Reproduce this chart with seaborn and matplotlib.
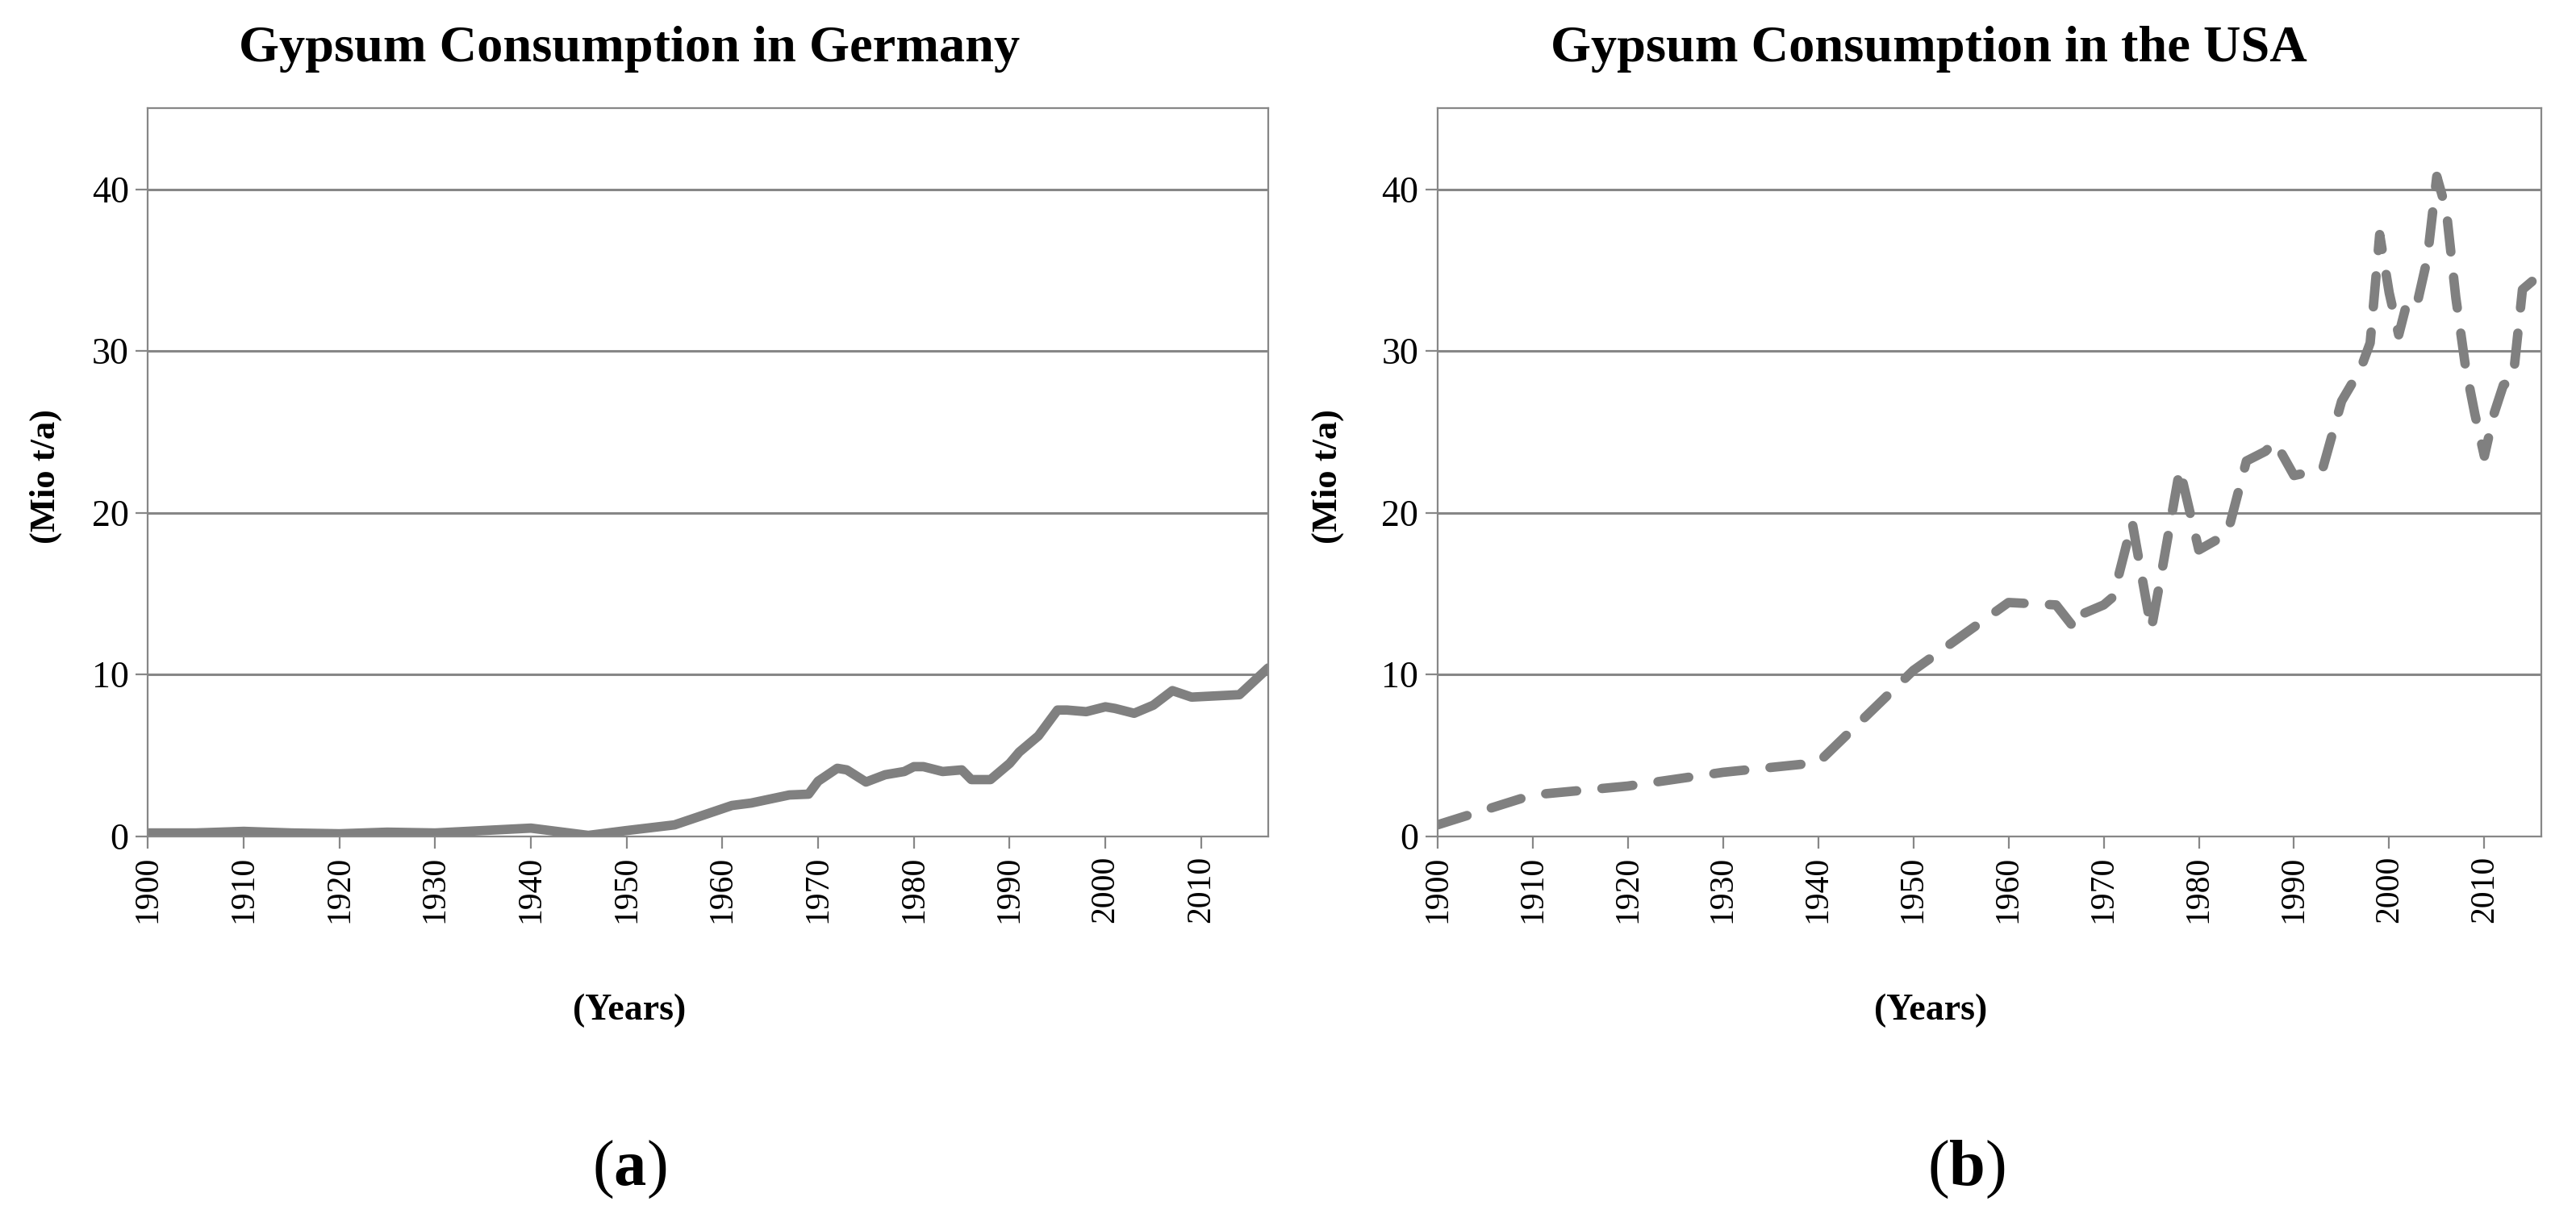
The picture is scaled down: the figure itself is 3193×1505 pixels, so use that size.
import matplotlib
matplotlib.use("Agg")
import matplotlib.pyplot as plt
import seaborn as sns
import pandas as pd

# Germany, Mio t/a
de_years = [1900, 1905, 1910, 1915, 1920, 1925, 1930, 1935, 1940, 1946, 1950, 1955,
            1960, 1961, 1963, 1965, 1967, 1969, 1970, 1972, 1973, 1975, 1977, 1979,
            1980, 1981, 1983, 1985, 1986, 1988, 1990, 1991, 1993, 1994, 1995, 1996,
            1998, 2000, 2001, 2003, 2005, 2007, 2009, 2014, 2017]
de_values = [0.2, 0.2, 0.3, 0.2, 0.15, 0.25, 0.2, 0.35, 0.5, 0.05, 0.35, 0.7,
             1.7, 1.9, 2.05, 2.3, 2.55, 2.6, 3.4, 4.2, 4.1, 3.35, 3.8, 4.0,
             4.3, 4.3, 4.0, 4.1, 3.5, 3.5, 4.5, 5.2, 6.2, 7.0, 7.8, 7.8,
             7.7, 8.0, 7.9, 7.6, 8.1, 9.0, 8.6, 8.75, 10.4]

# USA, Mio t/a
us_years = [1900, 1910, 1920, 1930, 1940, 1950, 1960, 1965, 1967, 1968, 1970, 1971,
            1973, 1975, 1976, 1978, 1980, 1983, 1985, 1987, 1988, 1990, 1993, 1995,
            1997, 1998, 1999, 2000, 2001, 2002, 2003, 2004, 2005, 2006, 2007, 2008,
            2009, 2010, 2011, 2012, 2013, 2014, 2015, 2016]
us_values = [0.7, 2.55, 3.1, 3.95, 4.55, 10.25, 14.45, 14.3, 12.8, 13.8, 14.3, 14.8,
             19.4, 12.8, 16.0, 22.7, 17.7, 18.7, 23.2, 23.8, 24.4, 22.3, 22.7, 26.9,
             28.9, 30.5, 37.2, 33.6, 31.0, 33.3, 33.1, 35.7, 40.8, 38.7, 33.3, 29.1,
             26.1, 23.5, 26.1, 27.9, 28.2, 33.8, 34.3, 35.2]

y_ticks = [0, 10, 20, 30, 40]
x_ticks = list(range(1900, 2011, 10))

de = pd.DataFrame({"year": de_years, "value": de_values})
us = pd.DataFrame({"year": us_years, "value": us_values})

sns.set_style("white")
plt.rcParams["font.family"] = ["Liberation Serif", "DejaVu Serif"]
plt.rcParams["text.color"] = "black"
plt.rcParams["mathtext.fontset"] = "custom"
plt.rcParams["mathtext.rm"] = "Liberation Serif"
plt.rcParams["mathtext.bf"] = "Liberation Serif:bold"

line_color = "#808080"
grid_color = "#878787"

fig = plt.figure(figsize=(15.965, 7.525), dpi=200)
ax1 = fig.add_axes([0.0574, 0.3112, 0.4349, 0.5995])
ax2 = fig.add_axes([0.558, 0.3112, 0.4286, 0.5995])

sns.lineplot(data=de, x="year", y="value", ax=ax1, color=line_color,
             linewidth=4.2, solid_joinstyle="round", solid_capstyle="round")
sns.lineplot(data=us, x="year", y="value", ax=ax2, color=line_color,
             linewidth=4.2, linestyle=(0, (3.3, 2.7)), dash_capstyle="round",
             dash_joinstyle="round")

for ax, xmax in [(ax1, 2017), (ax2, 2016)]:
    ax.set_xlim(1900, xmax)
    ax.set_ylim(0, 45)
    ax.set_yticks(y_ticks)
    ax.set_xticks(x_ticks)
    ax.set_xticklabels([str(t) for t in x_ticks], rotation=90, fontsize=15)
    ax.set_yticklabels([str(t) for t in y_ticks], fontsize=16.5)
    ax.set_xlabel("")
    ax.set_ylabel("")
    ax.yaxis.grid(True, color=grid_color, linewidth=1.1)
    ax.set_axisbelow(True)
    for s in ax.spines.values():
        s.set_color(grid_color)
        s.set_linewidth(0.8)
    ax.tick_params(axis="both", direction="out", length=5.5, width=0.8,
                   color=grid_color, labelcolor="black", pad=3)
    ax.tick_params(axis="x", bottom=True)
    ax.tick_params(axis="y", left=True)

fig.text(0.2443, 0.9594, "Gypsum Consumption in Germany", ha="center", va="center",
         fontsize=23.2, fontweight="bold")
fig.text(0.7487, 0.9594, "Gypsum Consumption in the USA", ha="center", va="center",
         fontsize=23.2, fontweight="bold")

for x in [0.0179, 0.5153]:
    fig.text(x, 0.6076, "(Mio t/a)", rotation=90, ha="center", va="center",
             fontsize=16, fontweight="bold")
for x in [0.2443, 0.7494]:
    fig.text(x, 0.1678, "(Years)", ha="center", va="center", fontsize=16.5,
             fontweight="bold")

fig.text(0.2443, 0.0365, r"($\mathbf{a}$)", ha="center", va="center", fontsize=29)
fig.text(0.7634, 0.0365, r"($\mathbf{b}$)", ha="center", va="center", fontsize=29)

fig.savefig("out.png", dpi=200, facecolor="white")
